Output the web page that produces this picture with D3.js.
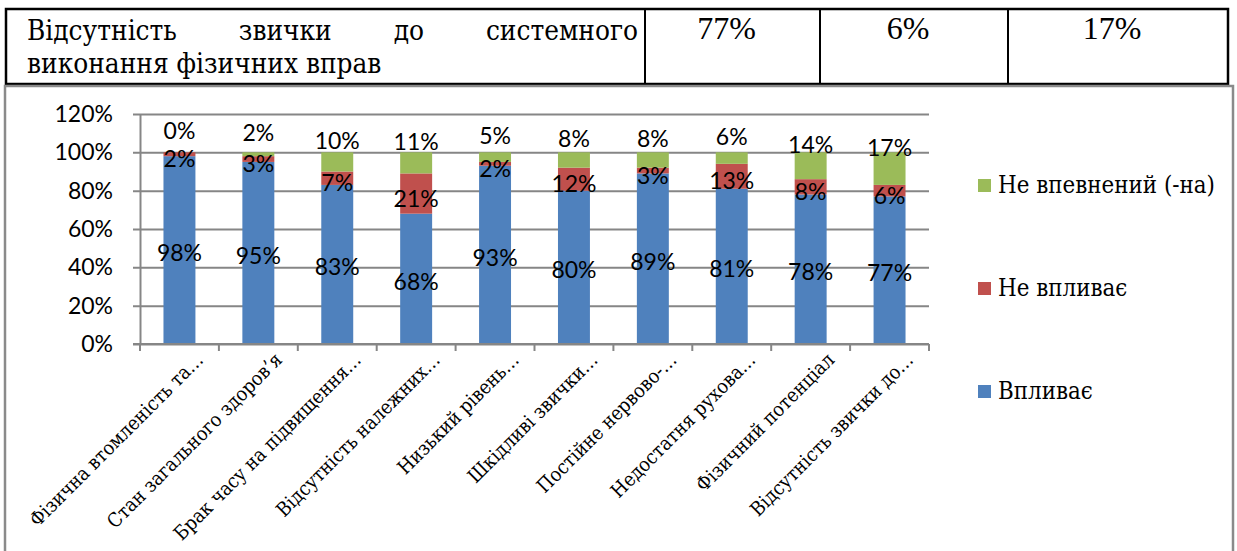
<!DOCTYPE html>
<html>
<head>
<meta charset="utf-8">
<script src="https://cdn.jsdelivr.net/npm/d3@7"></script>
<style>
  html, body { margin: 0; padding: 0; background: #fff; }
  svg { display: block; }
  .serif { font-family: "DejaVu Serif Condensed", "DejaVu Serif", serif; font-stretch: condensed; }
  .num { font-family: "Liberation Serif", "Times New Roman", Tinos, serif; }
  .sans { font-family: Lato, Carlito, Calibri, "Liberation Sans", sans-serif; }
</style>
</head>
<body>
<svg id="chart" width="1237" height="551"></svg>
<script>
// ---- data ----
const categories = [
  "Фізична втомленість та…",
  "Стан загального здоров’я",
  "Брак часу на підвищення…",
  "Відсутність належних…",
  "Низький рівень…",
  "Шкідливі звички…",
  "Постійне нервово-…",
  "Недостатня рухова…",
  "Фізичний потенціал",
  "Відсутність звички до…"
];
const seriesNames = ["Впливає", "Не впливає", "Не впевнений (-на)"];
const vplyvaie = [98, 95, 83, 68, 93, 80, 89, 81, 78, 77];
const neVplyvaie = [2, 3, 7, 21, 2, 12, 3, 13, 8, 6];
const neVpevnenyi = [0, 2, 10, 11, 5, 8, 8, 6, 14, 17];
const yTicks = [0, 20, 40, 60, 80, 100, 120];
const tableLine1 = ["Відсутність", "звички", "до", "системного"];
const tableLine2 = "виконання фізичних вправ";
const tableValues = ["77%", "6%", "17%"];

const colors = ["#4F81BD", "#C0504D", "#9BBB59"];

const rows = categories.map((c, i) => ({
  cat: c,
  [seriesNames[0]]: vplyvaie[i],
  [seriesNames[1]]: neVplyvaie[i],
  [seriesNames[2]]: neVpevnenyi[i]
}));

const svg = d3.select("#chart");

// helper: font size that makes a text sample span a given width
function fitSize(cls, text, target) {
  const t = svg.append("text").attr("class", cls).style("font-size", "20px").text(text);
  const w = t.node().getComputedTextLength();
  t.remove();
  return 20 * target / w;
}
const tableFs = fitSize("serif", "Відсутність", 150);
const legendFs = fitSize("serif", "Не впевнений (-на)", 217);
const xLabFs = fitSize("serif", categories[0], 236);

// ---- top table ----
const tblTop = 9, tblBot = 84, tblLeft = 6, tblRight = 1228;
const colX = [tblLeft, 645, 820, 1008, tblRight];
const tbl = svg.append("g");
tbl.append("rect").attr("x", tblLeft).attr("y", tblTop)
  .attr("width", tblRight - tblLeft).attr("height", tblBot - tblTop)
  .attr("fill", "none").attr("stroke", "#000").attr("stroke-width", 2.5);
colX.slice(1, -1).forEach(x => {
  tbl.append("line").attr("x1", x).attr("x2", x).attr("y1", tblTop).attr("y2", tblBot)
    .attr("stroke", "#000").attr("stroke-width", 2);
});
const l1 = tbl.append("g").attr("class", "serif").style("font-size", tableFs + "px").attr("fill", "#000");
const wordEls = tableLine1.map(w => l1.append("text").attr("y", 40).text(w));
const widths = wordEls.map(t => t.node().getComputedTextLength());
const startX = 27, endX = 638;
const gap = (endX - startX - d3.sum(widths)) / (tableLine1.length - 1);
let cx = startX;
wordEls.forEach((t, i) => { t.attr("x", cx); cx += widths[i] + gap; });
tbl.append("text").attr("class", "serif").attr("x", startX).attr("y", 73)
  .style("font-size", tableFs + "px").text(tableLine2);
tableValues.forEach((v, i) => {
  tbl.append("text").attr("class", "num")
    .attr("x", (colX[i + 1] + colX[i + 2]) / 2 - 6).attr("y", 39)
    .attr("text-anchor", "middle").style("font-size", "32px").text(v);
});

// ---- chart frame ----
svg.append("path").attr("d", "M5,560 V86 H1233 V560")
  .attr("fill", "none").attr("stroke", "#8a8a8a").attr("stroke-width", 2.5);

// ---- scales ----
const plotL = 140, plotR = 929, plotT = 114, plotB = 344;
const x = d3.scaleBand().domain(categories).range([plotL, plotR])
  .paddingInner(0.595).paddingOuter(0.2975);
const y = d3.scaleLinear().domain([0, 120]).range([plotB, plotT]);

// gridlines + y axis
const yAxis = svg.append("g").attr("transform", `translate(${plotL},0)`)
  .call(d3.axisLeft(y).tickValues(yTicks).tickFormat(d => d + "%")
    .tickSizeInner(-(plotR - plotL)).tickSizeOuter(0).tickPadding(27));
yAxis.attr("font-family", null).attr("font-size", null);
yAxis.select(".domain").attr("stroke", "#868686").attr("stroke-width", 2);
yAxis.selectAll(".tick line").attr("x1", -7).attr("stroke", "#868686").attr("stroke-width", 2);
yAxis.selectAll(".tick text").attr("class", "sans").style("font-size", "23px").attr("fill", "#000");

// bars
const stacked = d3.stack().keys(seriesNames)(rows);
const barG = svg.append("g");
stacked.forEach((s, si) => {
  barG.selectAll(null).data(s).enter().append("rect")
    .attr("x", d => x(d.data.cat))
    .attr("width", x.bandwidth())
    .attr("y", d => y(d[1]))
    .attr("height", d => y(d[0]) - y(d[1]))
    .attr("fill", colors[si]);
});

// x axis line with boundary ticks
svg.append("line").attr("x1", plotL - 7).attr("x2", plotR).attr("y1", plotB).attr("y2", plotB)
  .attr("stroke", "#868686").attr("stroke-width", 2);
const half = x.step() * x.paddingInner() / 2;
const bounds = categories.map(c => x(c) - half)
  .concat([x(categories[categories.length - 1]) + x.bandwidth() + half]);
svg.selectAll(null).data(bounds).enter().append("line")
  .attr("x1", d => d).attr("x2", d => d).attr("y1", plotB).attr("y2", plotB + 7)
  .attr("stroke", "#868686").attr("stroke-width", 2);

// x labels
const xAxis = svg.append("g").attr("transform", `translate(0,${plotB})`)
  .call(d3.axisBottom(x).tickSizeInner(0).tickSizeOuter(0));
xAxis.attr("font-family", null).attr("font-size", null);
xAxis.select(".domain").remove();
xAxis.selectAll(".tick text")
  .attr("class", "serif").style("font-size", xLabFs + "px").attr("fill", "#000")
  .attr("text-anchor", "end").attr("x", 0).attr("y", 0).attr("dy", 0)
  .attr("transform", "translate(25,17) rotate(-45)");

// data labels
const labelOffsets = [2, 4, -22];
const lblG = svg.append("g").attr("class", "sans").style("font-size", "23px")
  .attr("fill", "#000").attr("text-anchor", "middle");
stacked.forEach((s, si) => {
  lblG.selectAll(null).data(s).enter().append("text")
    .attr("x", d => x(d.data.cat) + x.bandwidth() / 2)
    .attr("y", d => y((d[0] + d[1]) / 2) + labelOffsets[si])
    .attr("dominant-baseline", "central")
    .text(d => (d[1] - d[0]) + "%");
});

// legend
const legend = svg.append("g");
const legendOrder = [2, 1, 0];
legendOrder.forEach((si, k) => {
  const ly = 179 + k * 103;
  legend.append("rect").attr("x", 978).attr("y", ly).attr("width", 13).attr("height", 13)
    .attr("fill", colors[si]);
  legend.append("text").attr("class", "serif").attr("x", 998).attr("y", ly + 14)
    .style("font-size", legendFs + "px").attr("fill", "#000")
    .text(seriesNames[si]);
});
</script>
</body>
</html>
